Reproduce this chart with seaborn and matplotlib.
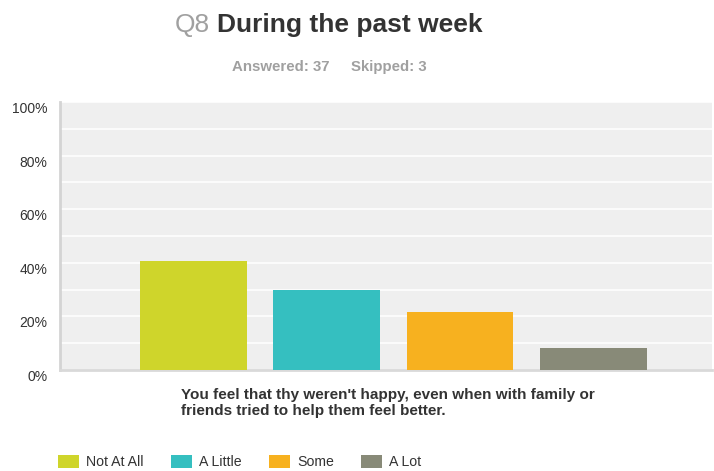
import matplotlib
matplotlib.use("Agg")
import matplotlib.pyplot as plt
import matplotlib.patches as mpatches
import seaborn as sns
import pandas as pd

# ---- data ----
responses = ["Not At All", "A Little", "Some", "A Lot"]
percents = [40.54, 29.73, 21.62, 8.11]
colors = ["#cfd52b", "#35bfc0", "#f7b11f", "#888a78"]
ytick_vals = [0, 20, 40, 60, 80, 100]
ytick_labels = ["0%", "20%", "40%", "60%", "80%", "100%"]
question = "Q8"
title_text = "During the past week"
answered = "Answered: 37"
skipped = "Skipped: 3"
xlabel_lines = ["You feel that thy weren't happy, even when with family or",
                "friends tried to help them feel better."]

sns.set_theme(style="white")
plt.rcParams['font.family'] = ['Liberation Sans', 'DejaVu Sans']

df = pd.DataFrame({"resp": responses, "pct": percents})

fig = plt.figure(figsize=(7.14, 4.71), dpi=100)
ax = fig.add_axes([60/714, 1-370/471, 652/714, 268/471])
ax.set_facecolor("#efefef")

sns.barplot(data=df, x="resp", y="pct", hue="resp", order=responses,
            hue_order=responses, palette=colors, width=0.8, legend=False,
            ax=ax, saturation=1, edgecolor="none", zorder=3)

ax.set_xlim(-1.0, 3.89)
ax.set_ylim(0, 100)
ax.set_yticks(ytick_vals)
ax.set_yticklabels(ytick_labels, fontsize=10, color="#333333")
ax.set_yticks([10, 30, 50, 70, 90], minor=True)
ax.yaxis.grid(True, which="both", color="white", linewidth=1.1, zorder=1)
ax.set_axisbelow(True)
ax.tick_params(axis="y", length=0, pad=9, which="both")
for lbl in ax.get_yticklabels():
    lbl.set_va("top")
    lbl.set_y(lbl.get_position()[1])
ax.tick_params(axis="y", labelsize=10)
ax.set_xticks([])
ax.set_xlabel("")
ax.set_ylabel("")
for s in ["top", "right"]:
    ax.spines[s].set_visible(False)
ax.spines["left"].set_color("#d4d4d4")
ax.spines["left"].set_linewidth(2)
ax.spines["bottom"].set_color("#d9d9d9")
ax.spines["bottom"].set_linewidth(2)

# title
fig.text(175/714, 1-25/471, question, fontsize=19, color="#a0a0a0",
         ha="left", va="center")
fig.text(217/714, 1-25/471, title_text, fontsize=19, color="#333333",
         fontweight="bold", ha="left", va="center")
fig.text(232/714, 1-67/471, answered, fontsize=10.8, color="#a0a0a0",
         fontweight="bold", ha="left", va="center")
fig.text(351/714, 1-67/471, skipped, fontsize=10.8, color="#a0a0a0",
         fontweight="bold", ha="left", va="center")

# x label
fig.text(181/714, 1-395/471, xlabel_lines[0], fontsize=11, color="#333333",
         fontweight="bold", ha="left", va="center")
fig.text(181/714, 1-411/471, xlabel_lines[1], fontsize=11, color="#333333",
         fontweight="bold", ha="left", va="center")

# legend
handles = [mpatches.Patch(facecolor=c, edgecolor="none") for c in colors]
leg = fig.legend(handles, responses, loc="center left",
                 bbox_to_anchor=(58/714, 1-462/471), ncol=4, frameon=False,
                 fontsize=10.2, handlelength=1.5, handleheight=1.1,
                 handletextpad=0.5, columnspacing=1.9, borderaxespad=0,
                 borderpad=0)
for t in leg.get_texts():
    t.set_color("#333333")

fig.savefig("out.png", dpi=100)
